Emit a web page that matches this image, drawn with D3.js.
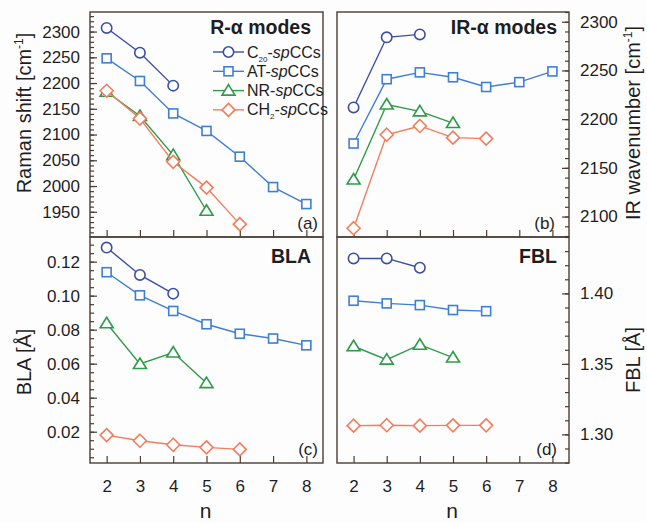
<!DOCTYPE html>
<html>
<head>
<meta charset="utf-8">
<script src="https://cdn.jsdelivr.net/npm/d3@7"></script>
<style>
  body { margin: 0; background: #fff; }
  svg { font-family: "Liberation Sans", Arial, sans-serif; }
</style>
</head>
<body>
<svg id="chart" width="647" height="523"></svg>
<script>
// data
var nValues = [2, 3, 4, 5, 6, 7, 8];
var seriesNames = ['C20', 'AT', 'NR', 'CH2'];

// (a) Raman shift [cm-1]
var ramanC20 = [2307, 2259, 2195];
var ramanAT = [2248, 2204, 2141, 2107, 2057, 1998, 1965];
var ramanNR = [2183, 2136, 2060, 1952];
var ramanCH2 = [2185, 2131, 2047, 1997, 1926];

// (b) IR wavenumber [cm-1]
var irC20 = [2212, 2284, 2287];
var irAT = [2175, 2241, 2248, 2243, 2233, 2238, 2249];
var irNR = [2138, 2215, 2208, 2196];
var irCH2 = [2088, 2184, 2193, 2181, 2180];

// (c) BLA [Å]
var blaC20 = [0.1283, 0.1122, 0.1012];
var blaAT = [0.1138, 0.1002, 0.0910, 0.0832, 0.0776, 0.0748, 0.0708];
var blaNR = [0.0838, 0.0598, 0.0666, 0.0486];
var blaCH2 = [0.0180, 0.0147, 0.0123, 0.0108, 0.0096];

// (d) FBL [Å]
var fblC20 = [1.4248, 1.4248, 1.4182];
var fblAT = [1.3948, 1.3929, 1.3917, 1.3882, 1.3874];
var fblNR = [1.3625, 1.3530, 1.3636, 1.3545];
var fblCH2 = [1.3062, 1.3065, 1.3062, 1.3064, 1.3064];

var ramanTicks = [1950, 2000, 2050, 2100, 2150, 2200, 2250, 2300];
var irTicks = [2100, 2150, 2200, 2250, 2300];
var blaTicks = [0.02, 0.04, 0.06, 0.08, 0.10, 0.12];
var fblTicks = [1.30, 1.35, 1.40];

var colors = { C20: '#3a4fa3', AT: '#3d7ed6', NR: '#2f9a47', CH2: '#f47c5c' };
var frameColor = '#4a3c34';
var textColor = '#1e1e1e';

var svg = d3.select('#chart');
svg.append('rect').attr('width', 647).attr('height', 523).attr('fill', '#fefdfe');

var colLeft = [90, 337];
var colRight = [323, 569];
var rowTop = [12, 237];
var rowBottom = [237, 463];

var x = [0, 1].map(function (c) {
    return d3.scaleLinear().domain([1.5, 8.5]).range([colLeft[c], colRight[c]]);
});

var panels = [
    { id: 'a', col: 0, row: 0, domain: [1901, 2338], ticks: ramanTicks, minorStep: 10, fmt: d3.format('d'),
      data: [ramanC20, ramanAT, ramanNR, ramanCH2], side: 'left', title: 'R-\u03b1 modes', label: '(a)', labelOff: 5 },
    { id: 'b', col: 1, row: 0, domain: [2079, 2310], ticks: irTicks, minorStep: 10, fmt: d3.format('d'),
      data: [irC20, irAT, irNR, irCH2], side: 'right', title: 'IR-\u03b1 modes', label: '(b)', labelOff: 14 },
    { id: 'c', col: 0, row: 1, domain: [0.0016, 0.1345], ticks: blaTicks, minorStep: 0.005, fmt: d3.format('.2f'),
      data: [blaC20, blaAT, blaNR, blaCH2], side: 'left', title: 'BLA', label: '(c)', labelOff: 5 },
    { id: 'd', col: 1, row: 1, domain: [1.2797, 1.44], ticks: fblTicks, minorStep: 0.01, fmt: d3.format('.2f'),
      data: [fblC20, fblAT, fblNR, fblCH2], side: 'right', title: 'FBL', label: '(d)', labelOff: 12 }
];

function minorValues(domain, step) {
    var out = [];
    var start = Math.ceil(domain[0] / step - 1e-9);
    var end = Math.floor(domain[1] / step + 1e-9);
    for (var i = start; i <= end; i++) out.push(+(i * step).toFixed(6));
    return out;
}

function drawMarker(g, name, cx, cy) {
    var col = colors[name];
    var m;
    if (name === 'C20') {
        m = g.append('circle').attr('cx', cx).attr('cy', cy).attr('r', 5.2);
    } else if (name === 'AT') {
        m = g.append('rect').attr('x', cx - 4.5).attr('y', cy - 4.5).attr('width', 9).attr('height', 9);
    } else if (name === 'NR') {
        m = g.append('path').attr('d', 'M' + cx + ',' + (cy - 6) + 'L' + (cx + 6.5) + ',' + (cy + 4.5) +
            'L' + (cx - 6.5) + ',' + (cy + 4.5) + 'Z');
    } else {
        m = g.append('path').attr('d', 'M' + cx + ',' + (cy - 6.5) + 'L' + (cx + 6.5) + ',' + cy +
            'L' + cx + ',' + (cy + 6.5) + 'L' + (cx - 6.5) + ',' + cy + 'Z');
    }
    m.attr('fill', '#fff').attr('stroke', col).attr('stroke-width', 1.6);
}

panels.forEach(function (p) {
    var xs = x[p.col];
    var y = d3.scaleLinear().domain(p.domain).range([rowBottom[p.row], rowTop[p.row]]);
    var g = svg.append('g').attr('class', 'panel-' + p.id);

    // y axis, ticks pointing inward
    var axisX = p.side === 'left' ? colLeft[p.col] : colRight[p.col];
    var mkAxis = p.side === 'left' ? d3.axisLeft : d3.axisRight;

    var minor = g.append('g').attr('transform', 'translate(' + axisX + ',0)')
        .call(mkAxis(y).tickValues(minorValues(p.domain, p.minorStep)).tickSize(-4).tickFormat(''));
    minor.select('.domain').remove();

    var major = g.append('g').attr('transform', 'translate(' + axisX + ',0)')
        .call(mkAxis(y).tickValues(p.ticks).tickSize(-7).tickPadding(p.side === 'left' ? 10 : 11).tickFormat(p.fmt));
    major.select('.domain').remove();

    // x axis ticks, inward
    var xa = g.append('g').attr('transform', 'translate(0,' + rowBottom[p.row] + ')')
        .call(d3.axisBottom(xs).tickValues(nValues).tickSize(-7).tickPadding(17)
            .tickFormat(p.row === 1 ? d3.format('d') : ''));
    xa.select('.domain').remove();

    [minor, major, xa].forEach(function (a) {
        a.selectAll('line').attr('stroke', frameColor).attr('stroke-width', 1.2);
        a.selectAll('text').attr('fill', textColor).style('font-size', '17px');
    });

    // frame
    g.append('rect')
        .attr('x', colLeft[p.col]).attr('y', rowTop[p.row])
        .attr('width', colRight[p.col] - colLeft[p.col])
        .attr('height', rowBottom[p.row] - rowTop[p.row])
        .attr('fill', 'none').attr('stroke', frameColor).attr('stroke-width', 1.4);

    // series
    var line = d3.line().x(function (d, i) { return xs(nValues[i]); }).y(function (d) { return y(d); });
    p.data.forEach(function (vals, si) {
        var name = seriesNames[si];
        g.append('path').datum(vals).attr('d', line)
            .attr('fill', 'none').attr('stroke', colors[name]).attr('stroke-width', 1.4);
        vals.forEach(function (v, i) { drawMarker(g, name, xs(nValues[i]), y(v)); });
    });

    // title and panel label
    g.append('text')
        .attr('x', colRight[p.col] - 12)
        .attr('y', rowTop[p.row] + (p.row === 0 ? 22 : 26))
        .attr('text-anchor', 'end')
        .attr('fill', textColor)
        .style('font-size', '19.5px').style('font-weight', 'bold')
        .text(p.title);

    g.append('text')
        .attr('x', colRight[p.col] - p.labelOff)
        .attr('y', rowBottom[p.row] - 8)
        .attr('text-anchor', 'end')
        .attr('fill', textColor)
        .style('font-size', '17px')
        .text(p.label);
});

// legend in panel (a)
var legendLabels = [
    { name: 'C20', main: 'C', sub: '20' },
    { name: 'AT', main: 'AT' },
    { name: 'NR', main: 'NR' },
    { name: 'CH2', main: 'CH', sub: '2' }
];
var legend = svg.append('g').attr('class', 'legend');
legendLabels.forEach(function (d, i) {
    var cy = 52 + i * 19.3;
    legend.append('line').attr('x1', 213).attr('x2', 244).attr('y1', cy).attr('y2', cy)
        .attr('stroke', colors[d.name]).attr('stroke-width', 1.4);
    drawMarker(legend, d.name, 228.5, cy);
    var t = legend.append('text').attr('x', 247).attr('y', cy + 5.5)
        .attr('fill', textColor).style('font-size', '16px');
    t.append('tspan').text(d.main);
    if (d.sub) t.append('tspan').attr('dy', 4).style('font-size', '8px').text(d.sub);
    t.append('tspan').attr('dy', d.sub ? -4 : 0).text('-');
    t.append('tspan').style('font-style', 'italic').text('sp');
    t.append('tspan').text('CCs');
});

// axis titles
function yTitle(xPos, yPos, parts) {
    var t = svg.append('text')
        .attr('transform', 'translate(' + xPos + ',' + yPos + ') rotate(-90)')
        .attr('text-anchor', 'middle').attr('fill', textColor)
        .style('font-size', '20px');
    parts.forEach(function (part) {
        var s = t.append('tspan').text(part.t);
        if (part.sup) s.attr('dy', -8).style('font-size', '12px');
        if (part.back) s.attr('dy', 8);
    });
}
yTitle(31, 113, [{ t: 'Raman shift [cm' }, { t: '-1', sup: true }, { t: ']', back: true }]);
yTitle(31, 362, [{ t: 'BLA [\u00c5]' }]);
yTitle(640, 123, [{ t: 'IR wavenumber [cm' }, { t: '-1', sup: true }, { t: ']', back: true }]);
yTitle(640, 360, [{ t: 'FBL [\u00c5]' }]);

[0, 1].forEach(function (c) {
    svg.append('text')
        .attr('x', (colLeft[c] + colRight[c]) / 2 - 1).attr('y', 518)
        .attr('text-anchor', 'middle').attr('fill', textColor)
        .style('font-size', '21px').text('n');
});
</script>
</body>
</html>
